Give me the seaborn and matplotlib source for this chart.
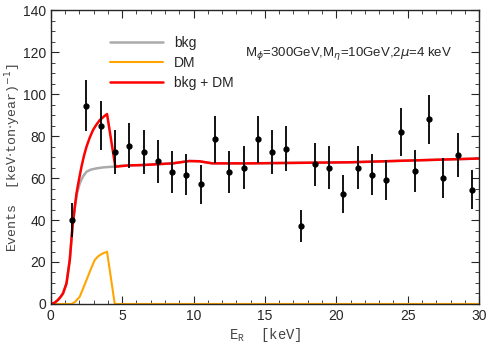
import numpy as np
import pandas as pd
import matplotlib
matplotlib.use("Agg")
import matplotlib.pyplot as plt
import seaborn as sns
from matplotlib.ticker import MultipleLocator

# data points (bin centres, events, errors)
e_bins = [1.5, 2.5, 3.5, 4.5, 5.5, 6.5, 7.5, 8.5, 9.5, 10.5, 11.5, 12.5, 13.5, 14.5, 15.5,
          16.5, 17.5, 18.5, 19.5, 20.5, 21.5, 22.5, 23.5, 24.5, 25.5, 26.5, 27.5, 28.5, 29.5]
events = [40, 94.5, 85, 72.5, 75.5, 72.5, 68, 63, 61.5, 57, 78.5, 63, 65, 78.5, 72.5,
          74, 37, 66.5, 65, 52.5, 65, 61.5, 59, 82, 63.5, 88, 60, 71, 54.5]
errors = [7.9, 12.2, 11.5, 10.6, 10.9, 10.6, 10.3, 9.9, 9.8, 9.4, 11.1, 9.9, 10.1, 11.1, 10.6,
          10.8, 7.6, 10.2, 10.1, 9.1, 10.1, 9.8, 9.6, 11.3, 10.0, 11.7, 9.7, 10.5, 9.2]

# curves
bkg_x = [0, 0.25, 0.5, 0.7, 0.86, 1.1, 1.33, 1.52, 1.7, 1.85, 2.03, 2.25, 2.5, 2.8, 3.2,
         3.7, 4.36, 5, 6.5, 8.5, 9.7, 10.4, 11.3, 14, 21, 30]
bkg_y = [0, 0.5, 1.9, 3.5, 5.1, 9.8, 21, 36.8, 47, 53, 57.5, 60.7, 63, 64, 64.6,
         65.1, 65.4, 65.9, 66.2, 67, 68.1, 68, 67, 67, 67.5, 69.3]
dm_x = [0, 1.45, 1.7, 2.03, 2.25, 2.5, 2.8, 3.08, 3.3, 3.55, 3.75, 3.94, 4.48, 5, 30]
dm_y = [0, 0, 1.0, 3.5, 7.2, 11.4, 16.5, 21, 22.6, 23.8, 24.4, 24.9, 0, 0, 0]
tot_x = [0, 0.25, 0.5, 0.7, 0.86, 1.1, 1.33, 1.52, 1.66, 1.8, 1.98, 2.15, 2.32, 2.5, 2.73,
         2.96, 3.2, 3.43, 3.7, 3.94, 4.52, 5.4, 6.45, 8.55, 9.7, 10.4, 11.3, 13.9, 20.9, 30]
tot_y = [0, 0.5, 1.9, 3.5, 5.1, 9.8, 21, 36.8, 45, 52.7, 59.5, 65.4, 70.5, 74.9, 79.3,
         82.9, 85.5, 87.6, 89.2, 90.5, 65.4, 66, 66.2, 67, 68.1, 68, 67, 67, 67.5, 69.3]

sns.set_style("ticks")
plt.rcParams['font.family'] = ['Liberation Sans', 'DejaVu Sans']

fig = plt.figure(figsize=(4.98, 3.49), dpi=100)
ax = fig.add_axes([0.102, 0.129, 0.86, 0.842])

sns.lineplot(x=bkg_x, y=bkg_y, color='#aaaaaa', lw=1.8, label='bkg', ax=ax)
sns.lineplot(x=dm_x, y=dm_y, color='orange', lw=1.5, label='DM', ax=ax)
sns.lineplot(x=tot_x, y=tot_y, color='red', lw=1.8, label='bkg + DM', ax=ax)
ax.errorbar(e_bins, events, yerr=errors, fmt='o', color='black', ms=3.5,
            elinewidth=1.3, capsize=0)

ax.set_xlim(0, 30)
ax.set_ylim(0, 140)
ax.xaxis.set_major_locator(MultipleLocator(5))
ax.xaxis.set_minor_locator(MultipleLocator(1))
ax.yaxis.set_major_locator(MultipleLocator(20))
ax.yaxis.set_minor_locator(MultipleLocator(5))
ax.tick_params(which='both', direction='in', top=True, right=True, labelsize=10)
ax.tick_params(which='major', length=6)
ax.tick_params(which='minor', length=3)
for s in ax.spines.values():
    s.set_linewidth(1.0)

ax.set_xlabel(r'E$_\mathregular{R}$  [keV]', family='Liberation Mono', fontsize=10,
              color='#444444', labelpad=2)
ax.set_ylabel(r'Events  [keV$\cdot$ton$\cdot$year)$^{-1}$]', family='Liberation Mono',
              fontsize=9.5, color='#444444', labelpad=0)

ax.text(13.6, 119.5, r'M$_\phi$=300GeV,M$_\eta$=10GeV,2$\mu$=4 keV', fontsize=9.5,
        va='center')

ax.legend(loc='upper left', bbox_to_anchor=(0.11, 0.955), frameon=False, fontsize=10,
          handlelength=3.8, labelspacing=0.45)

fig.savefig('out.png', dpi=100)
